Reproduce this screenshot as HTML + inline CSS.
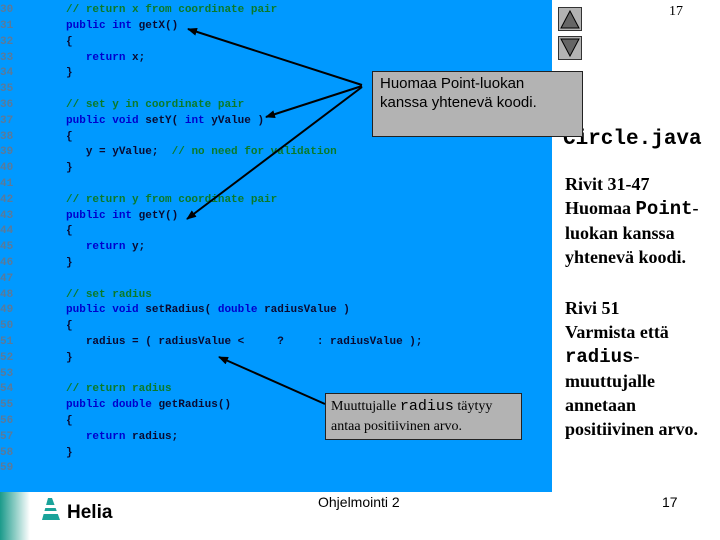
<!DOCTYPE html>
<html><head><meta charset="utf-8"><style>
body{margin:0;width:720px;height:540px;position:relative;background:#fff;overflow:hidden;font-family:"Liberation Sans",sans-serif}
#blue{position:absolute;left:0;top:0;width:552px;height:492px;background:#0099ff}
.l{position:absolute;left:0;font:bold 11px "Liberation Mono",monospace;white-space:pre;color:#0a0a30;line-height:14px}
.n{color:#5a7a9a}
.c{color:#0b7a2a}
.k{color:#0000cc}
.box{position:absolute;background:#b3b3b3;border:1px solid #222;z-index:2}
.r{position:absolute;left:565px;font:bold 18px "Liberation Serif",serif;color:#000;white-space:pre;line-height:24px}
.m{font-family:"Liberation Mono",monospace;font-size:19px}
.btn{position:absolute;left:558px;width:22px;height:22px;background:#b3b3b3;border:1px solid #333}
</style></head><body>
<div id="blue"></div>
<div class="l" style="top:3px"><span class="n">30</span>        <span class="c">// return x from coordinate pair</span></div>
<div class="l" style="top:19px"><span class="n">31</span>        <span class="k">public int</span> getX()</div>
<div class="l" style="top:35px"><span class="n">32</span>        {</div>
<div class="l" style="top:51px"><span class="n">33</span>           <span class="k">return</span> x;</div>
<div class="l" style="top:66px"><span class="n">34</span>        }</div>
<div class="l" style="top:82px"><span class="n">35</span></div>
<div class="l" style="top:98px"><span class="n">36</span>        <span class="c">// set y in coordinate pair</span></div>
<div class="l" style="top:114px"><span class="n">37</span>        <span class="k">public void</span> setY( <span class="k">int</span> yValue )</div>
<div class="l" style="top:130px"><span class="n">38</span>        {</div>
<div class="l" style="top:145px"><span class="n">39</span>           y = yValue;  <span class="c">// no need for validation</span></div>
<div class="l" style="top:161px"><span class="n">40</span>        }</div>
<div class="l" style="top:177px"><span class="n">41</span></div>
<div class="l" style="top:193px"><span class="n">42</span>        <span class="c">// return y from coordinate pair</span></div>
<div class="l" style="top:209px"><span class="n">43</span>        <span class="k">public int</span> getY()</div>
<div class="l" style="top:224px"><span class="n">44</span>        {</div>
<div class="l" style="top:240px"><span class="n">45</span>           <span class="k">return</span> y;</div>
<div class="l" style="top:256px"><span class="n">46</span>        }</div>
<div class="l" style="top:272px"><span class="n">47</span></div>
<div class="l" style="top:288px"><span class="n">48</span>        <span class="c">// set radius</span></div>
<div class="l" style="top:303px"><span class="n">49</span>        <span class="k">public void</span> setRadius( <span class="k">double</span> radiusValue )</div>
<div class="l" style="top:319px"><span class="n">50</span>        {</div>
<div class="l" style="top:335px"><span class="n">51</span>           radius = ( radiusValue &lt;     ?     : radiusValue );</div>
<div class="l" style="top:351px"><span class="n">52</span>        }</div>
<div class="l" style="top:367px"><span class="n">53</span></div>
<div class="l" style="top:382px"><span class="n">54</span>        <span class="c">// return radius</span></div>
<div class="l" style="top:398px"><span class="n">55</span>        <span class="k">public double</span> getRadius()</div>
<div class="l" style="top:414px"><span class="n">56</span>        {</div>
<div class="l" style="top:430px"><span class="n">57</span>           <span class="k">return</span> radius;</div>
<div class="l" style="top:446px"><span class="n">58</span>        }</div>
<div class="l" style="top:461px"><span class="n">59</span></div>

<svg width="720" height="540" style="position:absolute;left:0;top:0">
<defs><marker id="a" markerWidth="10" markerHeight="8" refX="9" refY="4" orient="auto" markerUnits="userSpaceOnUse"><path d="M0,0 L10,4 L0,8 z" fill="#000"/></marker></defs>
<g stroke="#000" stroke-width="2" fill="none">
<line x1="362" y1="85" x2="188" y2="29" marker-end="url(#a)"/>
<line x1="362" y1="86" x2="266" y2="117" marker-end="url(#a)"/>
<line x1="362" y1="87" x2="187" y2="219" marker-end="url(#a)"/>
<line x1="325" y1="404" x2="219" y2="357" marker-end="url(#a)"/>
</g>
</svg>

<div style="position:absolute;left:563px;top:128px;font:bold 21px 'Liberation Mono',monospace">Circle.java</div>
<div class="box" style="left:372px;top:71px;width:209px;height:64px"></div>
<div style="position:absolute;left:380px;top:74px;font:15px 'Liberation Sans',sans-serif;line-height:19px;color:#000;z-index:3">Huomaa Point-luokan<br>kanssa yhtenevä koodi.</div>
<div class="box" style="left:325px;top:393px;width:195px;height:45px"></div>
<div style="position:absolute;left:331px;top:397px;font:14px 'Liberation Serif',serif;line-height:20px;color:#000;z-index:3">Muuttujalle <span style="font-family:'Liberation Mono',monospace;font-size:15px">radius</span> täytyy<br>antaa positiivinen arvo.</div>

<div class="btn" style="top:7px"><svg width="22" height="22"><path d="M11,3 L20,20 L2,20 z" fill="#666" stroke="#000"/></svg></div>
<div class="btn" style="top:36px"><svg width="22" height="22"><path d="M2,2 L20,2 L11,19 z" fill="#666" stroke="#000"/></svg></div>
<div style="position:absolute;left:669px;top:4px;font:14px 'Liberation Serif',serif">17</div>

<div class="r" style="top:172px">Rivit 31-47
Huomaa <span class="m">Point</span>-
luokan kanssa
yhtenevä koodi.</div>
<div class="r" style="top:296px">Rivi 51
Varmista että
<span class="m">radius</span>-
muuttujalle
annetaan
positiivinen arvo.</div>

<div style="position:absolute;left:0;top:492px;width:30px;height:48px;background:linear-gradient(90deg,#1a9a8a,#fff)"></div>
<svg style="position:absolute;left:38px;top:496px" width="90" height="28">
<path d="M10,2 L4,24 L22,24 L14,2 z" fill="#1aa39a"/>
<rect x="2" y="9" width="24" height="3" fill="#fff"/><rect x="0" y="15" width="26" height="3" fill="#fff"/>
<text x="29" y="22" font-family="Liberation Sans" font-weight="bold" font-size="19" fill="#000">Helia</text>
</svg>
<div style="position:absolute;left:318px;top:494px;font:14px 'Liberation Sans',sans-serif">Ohjelmointi 2</div>
<div style="position:absolute;left:662px;top:494px;font:14px 'Liberation Sans',sans-serif">17</div>
</body></html>
